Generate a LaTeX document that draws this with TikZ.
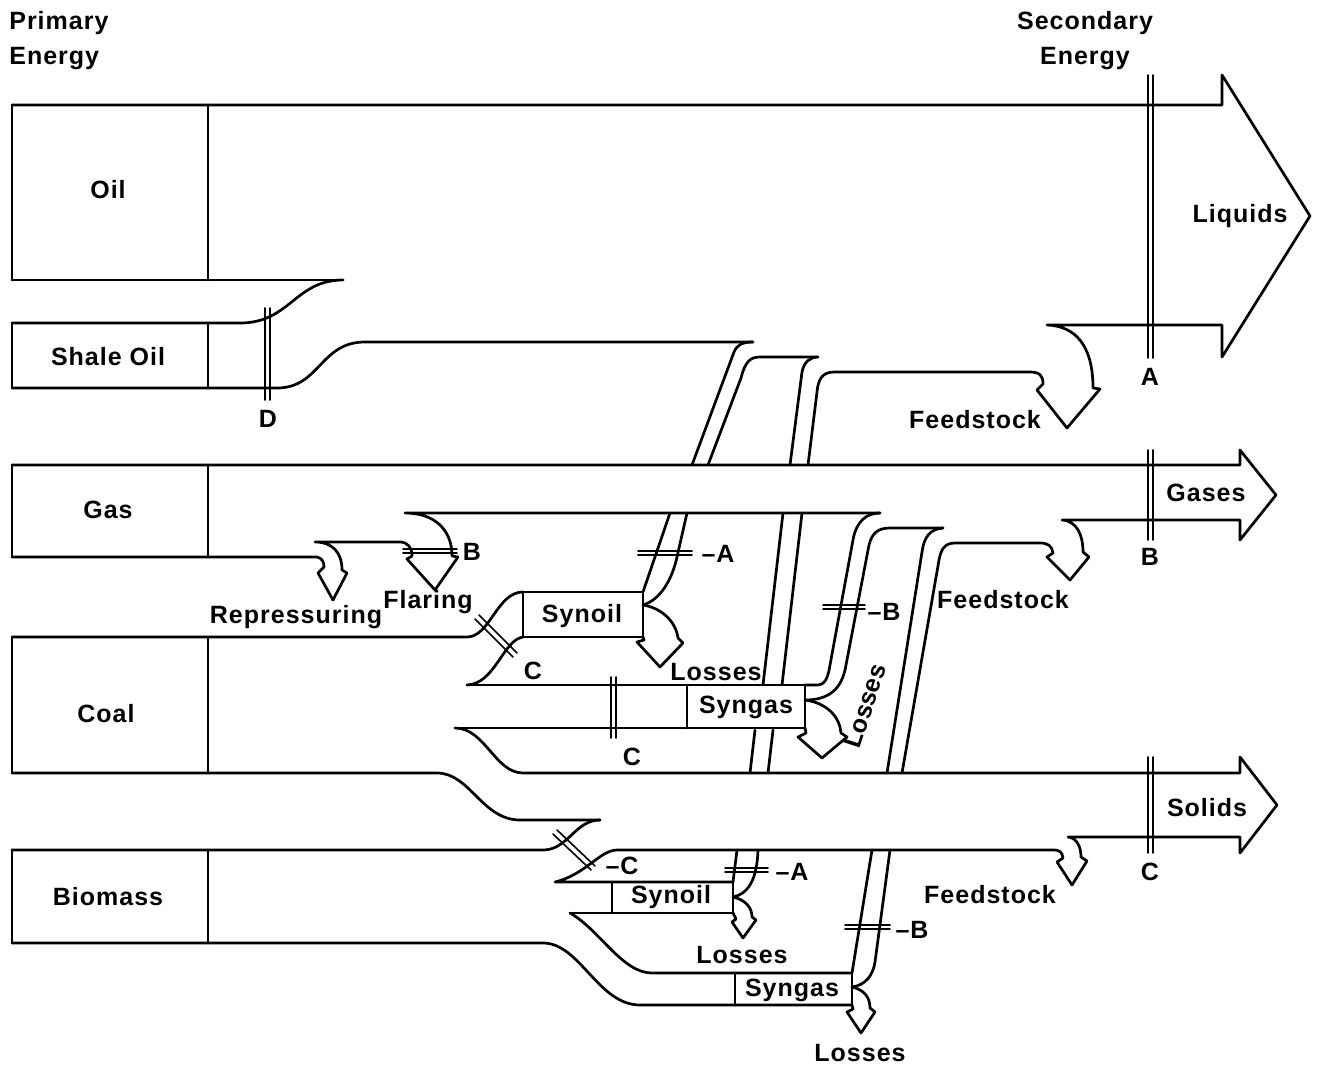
\documentclass[tikz,border=0pt]{standalone}
\usepackage{fontspec}
\setmainfont{Liberation Sans}[LetterSpace=4.0]
\tikzset{
  lbl/.style={font=\fontsize{25}{35}\selectfont\bfseries,inner sep=0pt},
  tick/.style={line width=1.6pt}
}

\begin{document}
\begin{tikzpicture}[x=1pt,y=-1pt,line width=2.7pt,line join=round,line cap=round]
  \useasboundingbox (0,0) rectangle (1326,1068);
  % oil and liquids
  \draw (12,105) -- (12,280) (208,105) -- (208,280);
  \draw (12,105) -- (1222,105) -- (1222,75) -- (1310,216) -- (1222,357) -- (1222,325) -- (1047,325)
    .. controls (1075,326) and (1093,345) .. (1093,388) -- (1100,389) -- (1067,428) -- (1037,390) -- (1043,384)
    .. controls (1043,376) and (1040,372) .. (1030,372) -- (834,372) .. controls (822,372) and (818,380) .. (817,392) -- (808,465);
  \draw (12,280) -- (343,280);
  % shale oil
  \draw (12,323) -- (12,388) (208,323) -- (208,388);
  \draw (12,323) -- (240,323) .. controls (290,323) and (295,280) .. (343,280);
  \draw (12,388) -- (277,388) .. controls (320,388) and (320,342) .. (365,342) -- (753,342);
  \draw[tick] (265,308) -- (265,400) (270,308) -- (270,400);
  % synoil from coal up to liquids
  \draw (643,592) -- (670,513);
  \draw (692,465) -- (734,352) .. controls (737,345) and (742,342) .. (753,342);
  \draw (643,605) .. controls (660,600) and (672,580) .. (677,557) -- (687,513);
  \draw (708,465) -- (741,378) .. controls (745,362) and (750,357) .. (760,357) -- (818,357);
  % coal up to liquids
  \draw (750,773) -- (755,730) (763,685) -- (783,513);
  \draw (790,465) -- (802,372) .. controls (804,362) and (810,357) .. (818,357);
  \draw (768,773) -- (773,730) (782,685) -- (802,513);
  % gas and gases
  \draw (12,465) -- (12,557) (208,465) -- (208,557);
  \draw (12,465) -- (1240,465) -- (1240,450) -- (1276,495) -- (1240,540) -- (1240,520) -- (1062,520)
    .. controls (1077,521) and (1083,535) .. (1083,552) -- (1089,557) -- (1070,580) -- (1047,557) -- (1053,553)
    .. controls (1052,546) and (1048,543) .. (1040,543) -- (955,543) .. controls (945,543) and (941,549) .. (939,560) -- (902,773);
  \draw (12,557) -- (317,557) .. controls (322,558) and (324,562) .. (324,567) -- (318,573) -- (333,600) -- (347,573) -- (342,570)
    .. controls (342,552) and (332,542) .. (315,542) -- (400,542) .. controls (408,542) and (412,548) .. (412,556)
    -- (407,559) -- (435,590) -- (458,557) -- (452,556) .. controls (452,530) and (435,513) .. (405,513) -- (880,513);
  % syngas from coal up to gases
  \draw (805,685) -- (817,685) .. controls (825,685) and (828,678) .. (830,665) -- (853,540) .. controls (856,522) and (866,513) .. (880,513);
  \draw (805,700) .. controls (828,700) and (842,690) .. (846,665) -- (869,545) .. controls (872,533) and (878,528) .. (890,528) -- (943,528);
  \draw (943,528) .. controls (930,529) and (924,537) .. (922,552) -- (887,773);
  \draw (805,700) .. controls (828,703) and (840,718) .. (841,733) -- (847,737) -- (822,758) -- (798,737) -- (806,733) -- (805,728);
  % coal
  \draw (12,637) -- (12,773) (208,637) -- (208,773);
  \draw (12,637) -- (467,637) .. controls (490,637) and (497,592) .. (523,592);
  \draw (523,592) rectangle (643,637);
  \draw (467,685) .. controls (495,684) and (503,640) .. (523,637);
  \draw (467,685) -- (805,685) (455,728) -- (805,728);
  \draw (687,685) -- (687,728) (805,685) -- (805,728);
  \draw (643,605) .. controls (662,608) and (676,622) .. (678,638) -- (683,643) -- (660,667) -- (637,642) -- (644,640) -- (643,637);
  \draw (12,773) -- (437,773) .. controls (470,773) and (482,820) .. (520,820) -- (600,820);
  % solids
  \draw (455,728) .. controls (485,728) and (495,773) .. (523,773) -- (1240,773) -- (1240,757) -- (1277,805) -- (1240,853) -- (1240,837) -- (1068,837)
    .. controls (1077,838) and (1081,847) .. (1081,857) -- (1087,861) -- (1072,885) -- (1057,862) -- (1063,858)
    .. controls (1062,852) and (1060,850) .. (1053,850) -- (617,850) .. controls (600,850) and (585,875) .. (555,882) -- (733,882);
  % biomass
  \draw (12,850) -- (12,943) (208,850) -- (208,943);
  \draw (12,850) -- (543,850) .. controls (568,850) and (575,820) .. (600,820);
  \draw (570,913) -- (733,913);
  \draw (570,913) .. controls (600,930) and (622,973) .. (652,973) -- (852,973);
  \draw (12,943) -- (543,943) .. controls (580,943) and (598,1005) .. (640,1005) -- (852,1005);
  \draw (612,882) -- (612,913) (733,882) -- (733,913);
  \draw (735,973) -- (735,1005) (852,973) -- (852,1005);
  \draw (733,882) -- (737,850);
  \draw (733,897) .. controls (748,894) and (757,880) .. (758,850);
  \draw (733,897) .. controls (746,900) and (752,908) .. (752,917) -- (756,920) -- (743,938) -- (732,922) -- (736,919) -- (733,913);
  \draw (852,973) -- (872,850);
  \draw (852,987) .. controls (866,985) and (873,975) .. (875,962) -- (890,850);
  \draw (852,987) .. controls (865,990) and (870,998) .. (870,1008) -- (875,1012) -- (861,1033) -- (847,1012) -- (853,1009) -- (852,1005);
  % cut marks
  \draw[tick] (1148,75) -- (1148,358) (1153,75) -- (1153,358);
  \draw[tick] (1148,450) -- (1148,540) (1153,450) -- (1153,540);
  \draw[tick] (1148,757) -- (1148,853) (1153,757) -- (1153,853);
  \draw[tick] (403,549) -- (457,549) (403,553) -- (457,553);
  \draw[tick] (475,619) -- (513,657) (479,615) -- (517,653);
  \draw[tick] (611,677) -- (611,738) (616,677) -- (616,738);
  \draw[tick] (638,551) -- (692,551) (638,555) -- (692,555);
  \draw[tick] (823,605) -- (865,605) (823,609) -- (865,609);
  \draw[tick] (553,834) -- (591,870) (557,830) -- (595,866);
  \draw[tick] (725,868) -- (768,868) (725,872) -- (768,872);
  \draw[tick] (845,925) -- (890,925) (845,929) -- (890,929);
  % labels
  \node[lbl,anchor=north west,align=left] (primary) at (8,10) {Primary\\Energy};
  \node[lbl,anchor=north,align=center] (secondary) at (1085,10) {Secondary\\Energy};
  \node[lbl] (oil) at (108,190) {Oil};
  \node[lbl] (shale) at (108,357) {Shale Oil};
  \node[lbl] (gas) at (108,510) {Gas};
  \node[lbl] (coal) at (106,714) {Coal};
  \node[lbl] (biomass) at (108,897) {Biomass};
  \node[lbl] (liquids) at (1240,216) {Liquids};
  \node[lbl] (gases) at (1206,493) {Gases};
  \node[lbl] (solids) at (1207,808) {Solids};
  \node[lbl] (repress) at (296,617) {Repressuring};
  \node[lbl] (flaring) at (428,602) {Flaring};
  \node[lbl] (synoilc) at (582,616) {Synoil};
  \node[lbl] (syngasc) at (746,707) {Syngas};
  \node[lbl] (synoilb) at (671,897) {Synoil};
  \node[lbl] (syngasb) at (792,990) {Syngas};
  \node[lbl] (lossa) at (716,672) {Losses};
  \node[lbl,rotate=72,font=\fontsize{25}{35}\selectfont\bfseries\addfontfeature{LetterSpace=0}] (lossb) at (865,706) {Losses};
  \node[lbl] (lossc) at (742,955) {Losses};
  \node[lbl] (lossd) at (860,1053) {Losses};
  \node[lbl] (feedl) at (975,420) {Feedstock};
  \node[lbl] (feedg) at (1003,600) {Feedstock};
  \node[lbl] (feeds) at (990,895) {Feedstock};
  \node[lbl] (cuta) at (1150,377) {A};
  \node[lbl] (cutb) at (1150,557) {B};
  \node[lbl] (cutc) at (1150,872) {C};
  \node[lbl] (cutd) at (268,419) {D};
  \node[lbl] (flareb) at (472,552) {B};
  \node[lbl] (synoilcc) at (533,671) {C};
  \node[lbl] (syngascc) at (632,757) {C};
  \node[lbl] (synoilca) at (718,554) {--A};
  \node[lbl] (syngascb) at (884,612) {--B};
  \node[lbl] (biomc) at (622,866) {--C};
  \node[lbl] (synoilba) at (792,872) {--A};
  \node[lbl] (syngasbb) at (912,930) {--B};
\end{tikzpicture}
\end{document}
